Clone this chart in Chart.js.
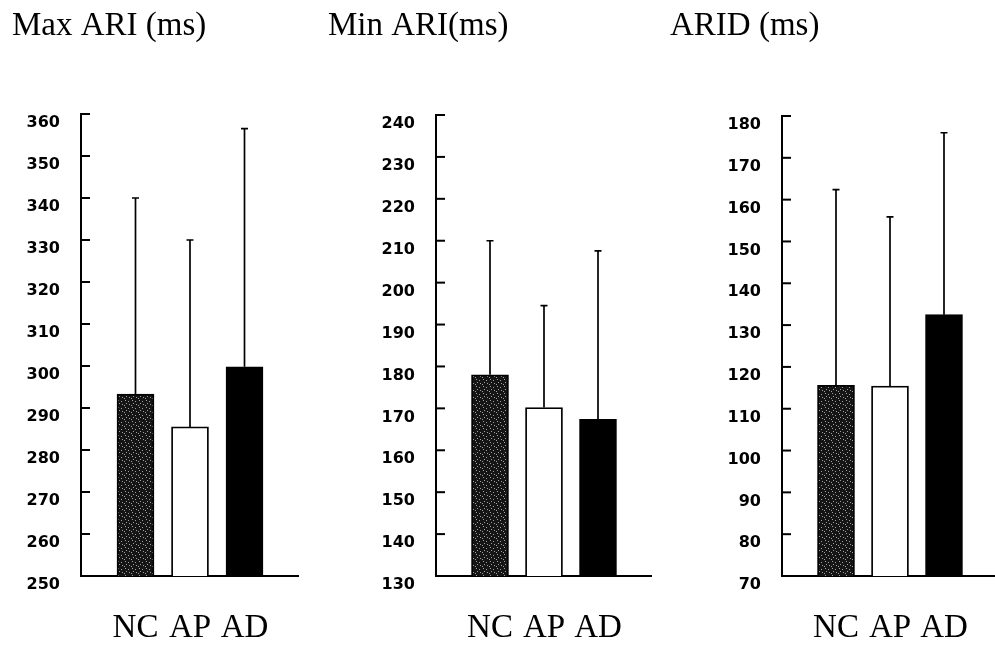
<!DOCTYPE html>
<html>
<head>
<meta charset="utf-8">
<script src="https://cdn.jsdelivr.net/npm/chart.js@4.4.1/dist/chart.umd.min.js"></script>
<style>
  html, body { margin: 0; padding: 0; background: #fff; overflow: hidden; }
  body { width: 995px; height: 648px; position: relative; }
  .panel { position: absolute; top: 0; height: 648px; }
</style>
</head>
<body>
<div class="panel" id="p1" style="left:12px;width:287px"><canvas id="c1"></canvas></div>
<div class="panel" id="p2" style="left:328px;width:324px"><canvas id="c2"></canvas></div>
<div class="panel" id="p3" style="left:670px;width:328px"><canvas id="c3"></canvas></div>
<script>
const categories = ["NC", "AP", "AD"];

const maxAriMean  = [293.3, 285.5, 299.8];
const maxAriUpper = [340, 330, 356.5];

const minAriMean  = [178, 170.2, 167.4];
const minAriUpper = [210, 194.5, 207.6];

const aridMean  = [115.6, 115.4, 132.5];
const aridUpper = [162.4, 155.9, 176];

const titles = ["Max ARI (ms)", "Min ARI(ms)", "ARID (ms)"];
const yMins = [250, 130, 70];
const yMaxs = [360, 240, 180];

// speckled dark fill for NC
function makeSpeckle() {
  const c = document.createElement("canvas");
  c.width = 7; c.height = 7;
  const g = c.getContext("2d");
  g.fillStyle = "#151515";
  g.fillRect(0, 0, 7, 7);
  g.fillStyle = "#a0a0a0";
  [[1, 1], [4, 2], [2, 4], [5, 5], [0, 6]].forEach(p => g.fillRect(p[0], p[1], 1, 1));
  return g.createPattern(c, "repeat");
}

// ticks pointing into the plot area
const innerTicks = {
  id: "innerTicks",
  afterDraw(chart) {
    const ys = chart.scales.y;
    const ctx = chart.ctx;
    ctx.save();
    ctx.strokeStyle = "#000";
    ctx.lineWidth = 2;
    ys.ticks.forEach(t => {
      const py = ys.getPixelForValue(t.value);
      ctx.beginPath();
      ctx.moveTo(ys.right, py);
      ctx.lineTo(ys.right + 9, py);
      ctx.stroke();
    });
    ctx.restore();
  }
};

// upper SD whiskers
const upperBars = {
  id: "upperBars",
  afterDatasetsDraw(chart, args, opts) {
    const ys = chart.scales.y;
    const meta = chart.getDatasetMeta(0);
    const ctx = chart.ctx;
    ctx.save();
    ctx.strokeStyle = "#000";
    ctx.lineWidth = 1.7;
    opts.upper.forEach((v, i) => {
      const el = meta.data[i + 1];
      if (!el) return;
      const top = ys.getPixelForValue(v);
      ctx.beginPath();
      ctx.moveTo(el.x, el.y);
      ctx.lineTo(el.x, top);
      ctx.moveTo(el.x - 3.5, top);
      ctx.lineTo(el.x + 3.5, top);
      ctx.stroke();
    });
    ctx.restore();
  }
};

function makePanel(canvasId, idx, means, upper, axisWidth, chartTop) {
  const labels = ["", ...categories, ""];
  const data = [null, ...means, null];
  const speckle = makeSpeckle();

  new Chart(document.getElementById(canvasId), {
    type: "bar",
    data: {
      labels: labels,
      datasets: [{
        data: data,
        backgroundColor: [null, speckle, "#ffffff", "#000000", null],
        borderColor: "#000",
        borderWidth: 1.8,
        borderSkipped: "bottom",
        barThickness: 37
      }]
    },
    options: {
      responsive: true,
      maintainAspectRatio: false,
      animation: false,
      events: [],
      layout: { padding: 0 },
      plugins: {
        legend: { display: false },
        tooltip: { enabled: false },
        title: {
          display: true,
          text: titles[idx],
          align: "start",
          color: "#000",
          font: { family: "'Liberation Serif', 'Times New Roman', serif", size: 33, weight: "normal" },
          padding: { top: 7, bottom: chartTop - 46.6 }
        },
        upperBars: { upper: upper }
      },
      scales: {
        x: {
          type: "category",
          offset: false,
          grid: {
            display: true,
            drawOnChartArea: false,
            drawTicks: true,
            tickLength: 33,
            color: "rgba(0,0,0,0)"
          },
          border: { display: true, color: "#000", width: 2 },
          ticks: {
            color: "#000",
            autoSkip: false,
            maxRotation: 0,
            padding: 0,
            font: { family: "'Liberation Serif', 'Times New Roman', serif", size: 33 }
          },
          afterFit: s => { s.height = 72; }
        },
        y: {
          min: yMins[idx],
          max: yMaxs[idx],
          grid: { display: false },
          border: { display: true, color: "#000", width: 2 },
          ticks: {
            stepSize: 10,
            color: "#000",
            padding: 13,
            labelOffset: 9,
            font: { family: "'DejaVu Sans', sans-serif", size: 16, weight: "bold" }
          },
          afterFit: s => { s.width = axisWidth; }
        }
      }
    },
    plugins: [innerTicks, upperBars]
  });
}

document.addEventListener("DOMContentLoaded", () => {
  makePanel("c1", 0, maxAriMean, maxAriUpper, 69, 114);
  makePanel("c2", 1, minAriMean, minAriUpper, 108, 115);
  makePanel("c3", 2, aridMean, aridUpper, 112, 116);
});
</script>
</body>
</html>
